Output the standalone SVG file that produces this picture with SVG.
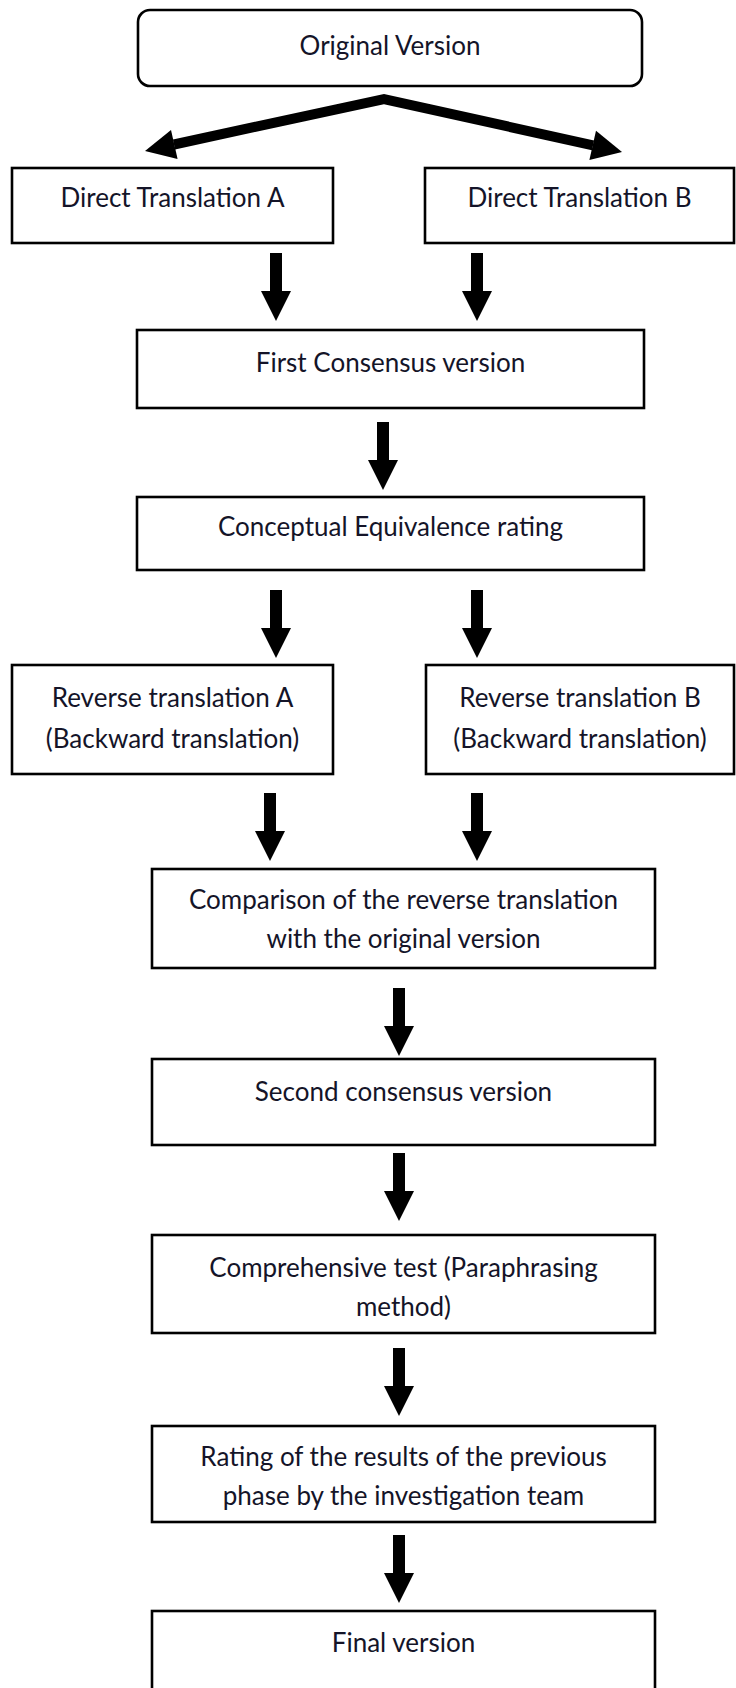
<svg xmlns="http://www.w3.org/2000/svg" xmlns:xlink="http://www.w3.org/1999/xlink" width="736" height="1688" viewBox="0 0 736 1688">
<style>
.box{fill:#fff;stroke:#000;stroke-width:2.6}
.t{font-family:Lato,"Open Sans","Liberation Sans",sans-serif;font-size:26px;fill:#141428;text-anchor:middle}
.shaft{fill:none;stroke:#000;stroke-width:10;stroke-linejoin:miter}
</style>
<defs>
<path id="va" d="M-6,0 H6 V38 H15 L0,68 L-15,38 H-6 Z" fill="#000"/>
</defs>
<rect width="736" height="1688" fill="#fff"/>
<g id="connectors">
<path class="shaft" d="M174,144.5 L384,99 L593,145.4"/>
<polygon points="145,151 177.6,159.1 171,129.9" fill="#000"/>
<polygon points="622,152 589.4,160 596,130.8" fill="#000"/>
<use href="#va" x="276" y="253"/>
<use href="#va" x="477" y="253"/>
<use href="#va" x="383" y="422"/>
<use href="#va" x="276" y="590"/>
<use href="#va" x="477" y="590"/>
<use href="#va" x="270" y="793"/>
<use href="#va" x="477" y="793"/>
<use href="#va" x="399" y="988"/>
<use href="#va" x="399" y="1153"/>
<use href="#va" x="399" y="1348"/>
<use href="#va" x="399" y="1535"/>
</g>
<g id="original"><rect class="box" x="138" y="10" width="504" height="76" rx="12"/><text class="t" x="390" y="55">Original Version</text></g>
<g id="directA"><rect class="box" x="12" y="168" width="321" height="75"/><text class="t" x="172.5" y="207">Direct Translation A</text></g>
<g id="directB"><rect class="box" x="425" y="168" width="309" height="75"/><text class="t" x="579.5" y="207">Direct Translation B</text></g>
<g id="firstConsensus"><rect class="box" x="137" y="330" width="507" height="78"/><text class="t" x="390.5" y="372">First Consensus version</text></g>
<g id="conceptual"><rect class="box" x="137" y="497" width="507" height="73"/><text class="t" x="390.5" y="536">Conceptual Equivalence rating</text></g>
<g id="reverseA"><rect class="box" x="12" y="665" width="321" height="109"/><text class="t" x="172.5" y="707">Reverse translation A</text><text class="t" x="172.5" y="748">(Backward translation)</text></g>
<g id="reverseB"><rect class="box" x="426" y="665" width="308" height="109"/><text class="t" x="580" y="707">Reverse translation B</text><text class="t" x="580" y="748">(Backward translation)</text></g>
<g id="comparison"><rect class="box" x="152" y="869" width="503" height="99"/><text class="t" x="403.5" y="909">Comparison of the reverse translation</text><text class="t" x="403.5" y="948">with the original version</text></g>
<g id="secondConsensus"><rect class="box" x="152" y="1059" width="503" height="86"/><text class="t" x="403.5" y="1101">Second consensus version</text></g>
<g id="comprehensive"><rect class="box" x="152" y="1235" width="503" height="98"/><text class="t" x="403.5" y="1277">Comprehensive test (Paraphrasing</text><text class="t" x="403.5" y="1316">method)</text></g>
<g id="rating"><rect class="box" x="152" y="1426" width="503" height="96"/><text class="t" x="403.5" y="1466">Rating of the results of the previous</text><text class="t" x="403.5" y="1505">phase by the investigation team</text></g>
<g id="final"><rect class="box" x="152" y="1611" width="503" height="95"/><text class="t" x="403.5" y="1652">Final version</text></g>
</svg>
